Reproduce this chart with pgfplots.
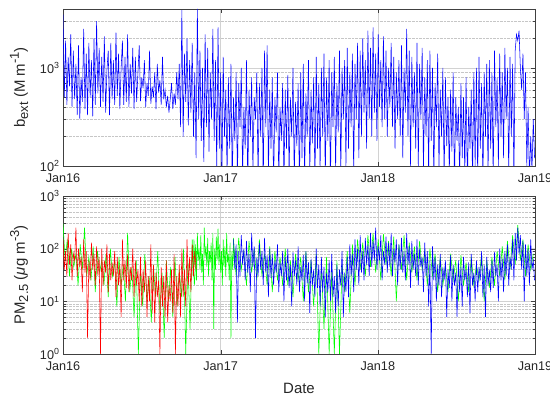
\documentclass[border=0pt]{standalone}
\usepackage{fontspec}
\setmainfont{Liberation Sans}
\usepackage{pgfplots}
\usepackage{pgfplotstable}
\pgfplotsset{compat=1.18}
\definecolor{mblue}{rgb}{0,0,1}
\definecolor{mred}{rgb}{1,0,0}
\definecolor{mgreen}{rgb}{0,1,0}
\newcommand{\lsub}[1]{\raisebox{-0.4ex}{\fontsize{13}{15}\selectfont #1}}
\newcommand{\lsup}[1]{\raisebox{0.75ex}{\fontsize{13}{15}\selectfont #1}}

% b_ext, days 0..1095 step 3
\pgfplotstableread[row sep=\\,header=false]{
3500\\500\\1900\\420\\1300\\650\\2200\\400\\1500\\480\\
1100\\330\\1700\\300\\800\\450\\2500\\380\\1400\\330\\
1800\\500\\1200\\320\\2000\\420\\3000\\550\\1600\\400\\
1300\\450\\2100\\350\\950\\1500\\330\\1800\\480\\1200\\
420\\2300\\520\\1400\\380\\1000\\1900\\420\\1300\\450\\
2200\\400\\1100\\550\\1600\\380\\1300\\450\\900\\1700\\
460\\800\\620\\1200\\400\\700\\520\\1500\\430\\650\\
500\\900\\380\\1100\\560\\750\\420\\1300\\480\\600\\
400\\520\\350\\480\\700\\380\\550\\420\\900\\480\\
1100\\250\\3900\\200\\1400\\450\\2000\\260\\1200\\350\\
1800\\200\\900\\120\\4000\\300\\1500\\180\\1000\\110\\
2200\\250\\1600\\140\\900\\300\\2500\\180\\1200\\90\\
2600\\150\\900\\70\\1300\\200\\600\\80\\800\\150\\
1100\\60\\500\\180\\900\\70\\700\\250\\1000\\80\\
400\\150\\1200\\60\\600\\200\\800\\90\\500\\300\\
900\\70\\700\\200\\1000\\60\\1500\\250\\1700\\80\\
600\\150\\800\\60\\500\\220\\900\\70\\400\\180\\
700\\60\\600\\150\\850\\80\\500\\200\\1000\\70\\
450\\160\\700\\60\\900\\120\\1100\\70\\550\\200\\
1200\\80\\600\\170\\800\\60\\1300\\150\\700\\90\\
1000\\200\\1400\\70\\800\\180\\1200\\60\\900\\250\\
1300\\90\\700\\220\\1500\\80\\1000\\300\\1200\\100\\
1600\\150\\900\\250\\1400\\80\\1100\\300\\1800\\120\\
1500\\200\\2000\\350\\1200\\150\\2400\\300\\1600\\200\\
2600\\350\\1400\\180\\2200\\400\\1200\\250\\2100\\300\\
1500\\200\\1000\\400\\1800\\250\\1300\\150\\900\\300\\
1200\\200\\1700\\120\\1000\\350\\2500\\200\\1500\\100\\
1300\\250\\900\\150\\1800\\100\\1100\\300\\1600\\90\\
800\\200\\1200\\80\\1500\\180\\1000\\70\\700\\250\\
1400\\90\\600\\200\\1000\\70\\800\\160\\500\\80\\
600\\140\\900\\60\\500\\180\\400\\70\\700\\120\\
500\\80\\800\\60\\400\\150\\600\\70\\900\\100\\
1000\\70\\1300\\150\\700\\60\\900\\200\\1100\\80\\
1200\\150\\900\\70\\1500\\250\\800\\100\\1400\\200\\
900\\120\\1600\\300\\1000\\80\\1300\\200\\1100\\70\\
1500\\2200\\1900\\2400\\1000\\600\\1400\\300\\900\\100\\
400\\70\\200\\90\\300\\120\\
}\bext

% PM2.5 red, days 0..309 step 3
\pgfplotstableread[row sep=\\,header=false]{
150\\40\\90\\30\\200\\50\\120\\25\\80\\60\\
250\\30\\100\\45\\70\\15\\150\\35\\90\\2\\
60\\25\\130\\40\\80\\20\\110\\30\\70\\1\\
100\\20\\60\\35\\120\\15\\80\\25\\55\\30\\
90\\12\\70\\20\\50\\5\\150\\25\\60\\18\\
80\\15\\45\\25\\100\\12\\60\\20\\40\\10\\
70\\8\\40\\15\\60\\5\\30\\10\\120\\6\\
50\\4\\35\\12\\25\\1\\45\\8\\30\\5\\
60\\4\\20\\10\\40\\6\\80\\1\\30\\8\\
50\\5\\100\\12\\40\\8\\150\\20\\70\\15\\
120\\30\\90\\40\\
}\pmred

% green A, days 0..310 step 5
\pgfplotstableread[row sep=\\,header=false]{
300\\60\\150\\30\\100\\45\\80\\20\\120\\40\\
250\\30\\70\\25\\110\\15\\90\\35\\60\\20\\
80\\12\\100\\30\\60\\8\\70\\20\\50\\10\\
200\\15\\45\\5\\60\\1\\40\\8\\80\\10\\
30\\4\\50\\12\\90\\6\\35\\2\\60\\10\\
45\\5\\70\\8\\40\\12\\100\\1\\60\\3\\
150\\20\\90\\
}\pmgreenA

% green B, days 300..400 step 2
\pgfplotstableread[row sep=\\,header=false]{
90\\30\\150\\50\\120\\25\\200\\60\\100\\40\\
180\\35\\80\\20\\250\\70\\110\\45\\160\\30\\
90\\55\\130\\25\\200\\3\\100\\40\\170\\60\\
240\\50\\120\\35\\90\\20\\150\\45\\110\\30\\
200\\55\\80\\25\\130\\2\\90\\40\\160\\50\\
100\\
}\pmgreenB

% green C, days 396..1092 step 6
\pgfplotstableread[row sep=\\,header=false]{
120\\30\\160\\40\\90\\20\\140\\35\\100\\25\\
150\\30\\80\\20\\110\\15\\90\\25\\70\\20\\
100\\20\\60\\12\\80\\25\\70\\10\\90\\15\\
60\\8\\80\\1\\50\\3\\70\\1\\40\\1\\
60\\1\\50\\15\\90\\6\\120\\20\\150\\40\\
130\\30\\180\\45\\200\\35\\150\\25\\190\\50\\
140\\30\\170\\10\\120\\40\\180\\25\\130\\35\\
110\\25\\140\\40\\90\\20\\100\\30\\80\\15\\
70\\20\\50\\15\\80\\25\\60\\10\\75\\20\\
55\\15\\70\\20\\50\\25\\80\\10\\60\\18\\
70\\20\\90\\30\\110\\25\\140\\40\\180\\50\\
280\\60\\150\\30\\120\\40\\80\\
}\pmgreenC

% blue, days 396..1095 step 3
\pgfplotstableread[row sep=\\,header=false]{
150\\40\\120\\4\\90\\30\\180\\50\\100\\25\\
140\\35\\80\\15\\200\\45\\110\\2\\70\\30\\
130\\40\\90\\20\\160\\35\\75\\12\\100\\28\\
80\\20\\60\\35\\120\\15\\55\\30\\90\\10\\
70\\25\\100\\18\\50\\8\\85\\30\\60\\20\\
110\\15\\45\\25\\75\\10\\90\\22\\55\\6\\
65\\20\\40\\12\\100\\18\\50\\8\\70\\15\\
45\\5\\35\\15\\60\\10\\80\\12\\30\\6\\
50\\8\\40\\20\\90\\5\\35\\15\\70\\12\\
120\\30\\80\\15\\150\\40\\100\\20\\180\\35\\
90\\25\\160\\50\\120\\30\\200\\45\\140\\60\\
250\\40\\110\\60\\180\\25\\90\\50\\170\\35\\
130\\45\\200\\30\\100\\55\\150\\20\\120\\40\\
160\\35\\90\\25\\200\\50\\110\\18\\140\\40\\
80\\30\\150\\20\\100\\45\\70\\15\\130\\30\\
90\\8\\60\\1\\110\\25\\70\\10\\50\\20\\
80\\12\\45\\25\\60\\5\\40\\18\\75\\10\\
50\\20\\35\\5\\60\\15\\45\\8\\70\\25\\
40\\12\\55\\6\\80\\20\\35\\10\\60\\15\\
45\\25\\90\\12\\50\\5\\70\\20\\40\\15\\
60\\18\\85\\30\\50\\10\\100\\25\\65\\15\\
90\\30\\120\\20\\70\\40\\150\\25\\200\\60\\
250\\80\\180\\40\\140\\10\\120\\30\\100\\20\\
150\\40\\60\\25\\
}\pmblue

\begin{document}
\begin{tikzpicture}
\begin{axis}[
  ymode=log,
  scale only axis,
  width=472bp, height=157bp,
  at={(63bp,233bp)}, anchor=south west,
  xmin=0, xmax=1096,
  xtick={0,366,731,1096},
  xticklabels={Jan16,Jan17,Jan18,Jan19},
  tick align=inside,
  axis line style={black!75},
  tick style={black!75},
  major tick length=4bp,
  minor tick length=2.5bp,
  xmajorgrids, ymajorgrids, yminorgrids,
  major grid style={gray!35, line width=0.4pt},
  minor grid style={densely dotted, gray!45},
  xticklabel style={font=\fontsize{12.7}{14}\selectfont, black!85, yshift=-4bp},
  yticklabel style={font=\fontsize{12.7}{14}\selectfont, black!85},
  ylabel style={font=\fontsize{15}{18}\selectfont, black!85, at={(axis description cs:-0.093,0.5)}, anchor=center},
  ymin=100, ymax=4000,
  ytick={100,1000},
  yticklabels={10\textsuperscript{2},10\textsuperscript{3}},
  minor ytick={200,300,400,500,600,700,800,900,2000,3000},
  ylabel={b\lsub{ext} (M m\lsup{-1})},
]
\addplot[mblue, line width=0.55pt] table[x expr={3*\coordindex}, y index=0] {\bext};
\end{axis}

\begin{axis}[
  ymode=log,
  scale only axis,
  width=472bp, height=158bp,
  at={(63bp,45bp)}, anchor=south west,
  xmin=0, xmax=1096,
  xtick={0,366,731,1096},
  xticklabels={Jan16,Jan17,Jan18,Jan19},
  tick align=inside,
  axis line style={black!75},
  tick style={black!75},
  major tick length=4bp,
  minor tick length=2.5bp,
  xmajorgrids, ymajorgrids, yminorgrids,
  major grid style={gray!35, line width=0.4pt},
  minor grid style={densely dotted, gray!45},
  xticklabel style={font=\fontsize{12.7}{14}\selectfont, black!85, yshift=-4bp},
  yticklabel style={font=\fontsize{12.7}{14}\selectfont, black!85},
  ylabel style={font=\fontsize{15}{18}\selectfont, black!85, at={(axis description cs:-0.093,0.5)}, anchor=center},
  ymin=1, ymax=1000,
  ytick={1,10,100,1000},
  yticklabels={10\textsuperscript{0},10\textsuperscript{1},10\textsuperscript{2},10\textsuperscript{3}},
  minor ytick={2,3,4,5,6,7,8,9,20,30,40,50,60,70,80,90,200,300,400,500,600,700,800,900},
  ylabel={PM\lsub{2.5} (\textit{μ}g m\lsup{-3})},
  xlabel={Date},
  xlabel style={font=\fontsize{15}{17}\selectfont, black!85, at={(axis description cs:0.5,-0.215)}, anchor=center},
]
\addplot[mgreen, line width=0.55pt] table[x expr={5*\coordindex}, y index=0] {\pmgreenA};
\addplot[mgreen, line width=0.55pt] table[x expr={300+2*\coordindex}, y index=0] {\pmgreenB};
\addplot[mgreen, line width=0.55pt] table[x expr={396+6*\coordindex}, y index=0] {\pmgreenC};
\addplot[mred, line width=0.55pt] table[x expr={3*\coordindex}, y index=0] {\pmred};
\addplot[mblue, line width=0.55pt] table[x expr={396+3*\coordindex}, y index=0] {\pmblue};
\end{axis}
\pgfresetboundingbox
\path (0,0) rectangle (550bp,399bp);
\end{tikzpicture}
\end{document}
